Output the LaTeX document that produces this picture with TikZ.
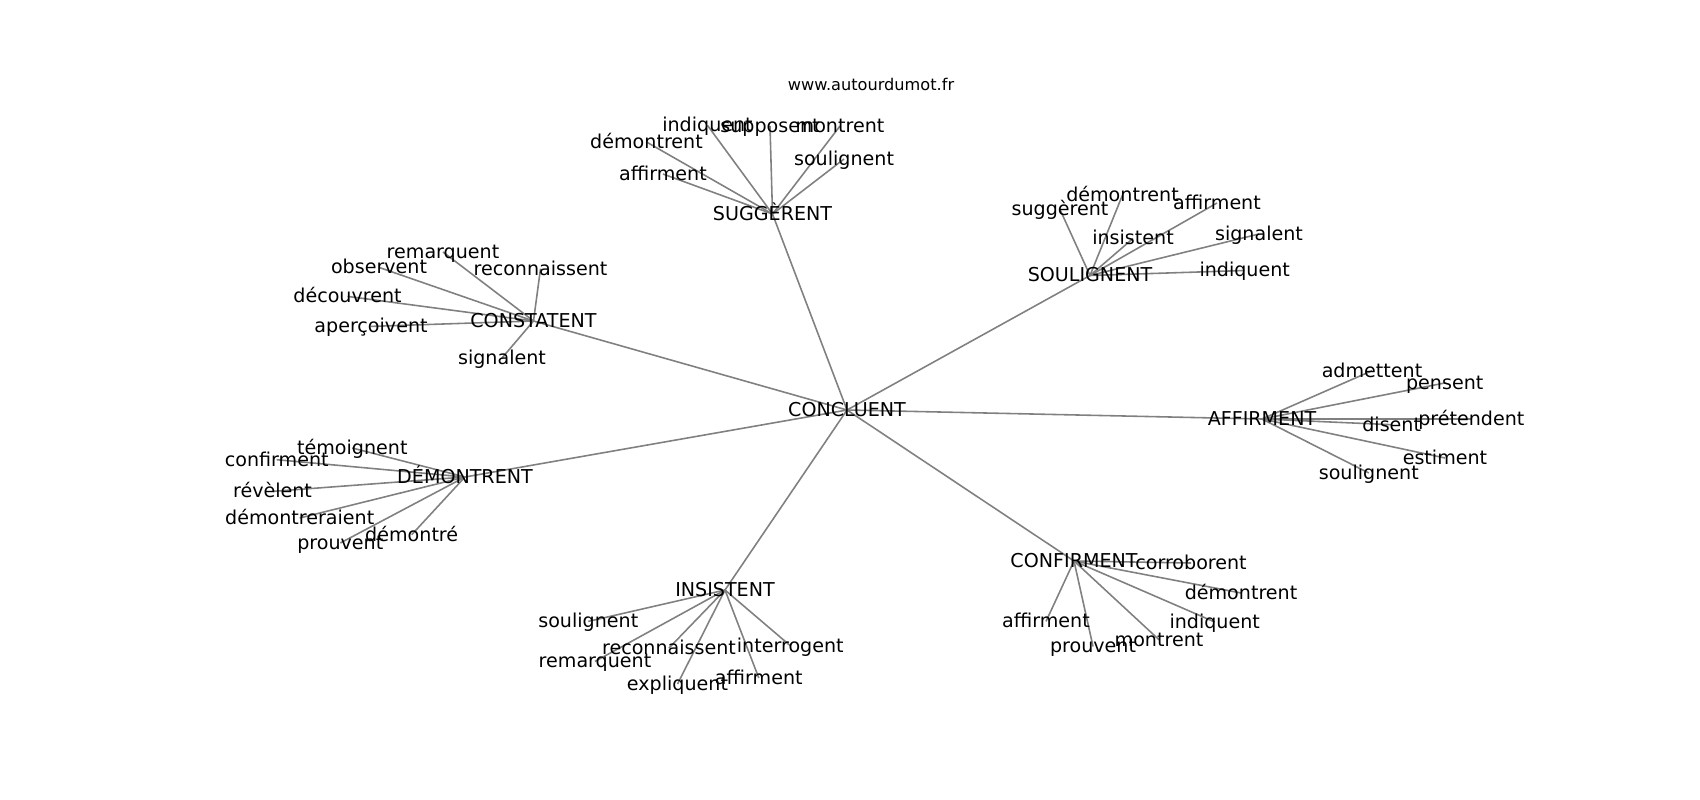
\documentclass[tikz,border=0pt]{standalone}
\usepackage{fontspec}
\setmainfont{DejaVu Sans}
\usetikzlibrary{backgrounds}
\tikzstyle{link} = [draw=black!50,line width=0.9pt]

\begin{document}
\begin{tikzpicture} [
    x=0.02cm, y=-0.02cm,
    node/.style={inner sep=0pt,text height=0.86em,text depth=0.14em,font=\fontsize{10.87}{13}\selectfont},
    hub/.style={node},
    web/.style={inner sep=0pt,text height=0.86em,text depth=0.14em,font=\fontsize{9.2}{11}\selectfont},
    ]
    \useasboundingbox (0,0) rectangle (1700,800);

    \node [web] (W) at (871,84) {www.autourdumot.fr};
    \node [hub] (A) at (847,410) {CONCLUENT};
    \path (A) ++(-74.5,-196) node [hub] (SG) {SUGGÈRENT};
    \path (A) ++(243,-134.5) node [hub] (SO) {SOULIGNENT};
    \path (A) ++(-313.5,-89) node [hub] (CS) {CONSTATENT};
    \path (A) ++(-382,67) node [hub] (DM) {DÉMONTRENT};
    \path (A) ++(415,9) node [hub] (AF) {AFFIRMENT};
    \path (A) ++(227,151) node [hub] (CF) {CONFIRMENT};
    \path (A) ++(-122,180) node [hub] (IN) {INSISTENT};

    \path (SG) ++(-65,-88.6) node [node] (SGa) {indiquent};
    \path (SG) ++(-2.5,-88) node [node] (SGb) {supposent};
    \path (SG) ++(67.5,-88) node [node] (SGc) {montrent};
    \path (SG) ++(-126,-72) node [node] (SGd) {démontrent};
    \path (SG) ++(-109.5,-40) node [node] (SGe) {affirment};
    \path (SG) ++(71.5,-55) node [node] (SGf) {soulignent};

    \path (SO) ++(-30,-66) node [node] (SOa) {suggèrent};
    \path (SO) ++(32.5,-80.5) node [node] (SOb) {démontrent};
    \path (SO) ++(127,-72.5) node [node] (SOc) {affirment};
    \path (SO) ++(43,-37) node [node] (SOd) {insistent};
    \path (SO) ++(169,-41.5) node [node] (SOe) {signalent};
    \path (SO) ++(154.7,-5) node [node] (SOf) {indiquent};

    \path (CS) ++(-90.5,-69) node [node] (CSa) {remarquent};
    \path (CS) ++(-154.5,-53.6) node [node] (CSb) {observent};
    \path (CS) ++(7,-52.3) node [node] (CSc) {reconnaissent};
    \path (CS) ++(-186,-24.6) node [node] (CSd) {découvrent};
    \path (CS) ++(-162.5,5.4) node [node] (CSe) {aperçoivent};
    \path (CS) ++(-31.5,37) node [node] (CSf) {signalent};

    \path (DM) ++(-112.7,-29) node [node] (DMa) {témoignent};
    \path (DM) ++(-188.3,-17.3) node [node] (DMb) {confirment};
    \path (DM) ++(-192.5,14.4) node [node] (DMc) {révèlent};
    \path (DM) ++(-165.3,41) node [node] (DMd) {démontreraient};
    \path (DM) ++(-53.3,57.7) node [node] (DMe) {démontré};
    \path (DM) ++(-124.7,66) node [node] (DMf) {prouvent};

    \path (AF) ++(110,-48.3) node [node] (AFa) {admettent};
    \path (AF) ++(182.7,-36) node [node] (AFb) {pensent};
    \path (AF) ++(209.3,0) node [node] (AFc) {prétendent};
    \path (AF) ++(129.7,5.7) node [node] (AFd) {disent};
    \path (AF) ++(183,39) node [node] (AFe) {estiment};
    \path (AF) ++(106.8,54) node [node] (AFf) {soulignent};

    \path (CF) ++(117,2) node [node] (CFa) {corroborent};
    \path (CF) ++(167,32) node [node] (CFb) {démontrent};
    \path (CF) ++(-28,60.4) node [node] (CFc) {affirment};
    \path (CF) ++(140.7,61) node [node] (CFd) {indiquent};
    \path (CF) ++(19,85.4) node [node] (CFe) {prouvent};
    \path (CF) ++(85,78.7) node [node] (CFf) {montrent};

    \path (IN) ++(-136.7,31.4) node [node] (INa) {soulignent};
    \path (IN) ++(-56,58) node [node] (INb) {reconnaissent};
    \path (IN) ++(65.3,55.7) node [node] (INc) {interrogent};
    \path (IN) ++(-130,71.4) node [node] (INd) {remarquent};
    \path (IN) ++(33.8,88) node [node] (INe) {affirment};
    \path (IN) ++(-47.5,94) node [node] (INf) {expliquent};

    \begin{pgfonlayer}{background}
    \draw[link] (A.center) -- (SG.center);
    \draw[link] (A.center) -- (SO.center);
    \draw[link] (A.center) -- (CS.center);
    \draw[link] (A.center) -- (DM.center);
    \draw[link] (A.center) -- (AF.center);
    \draw[link] (A.center) -- (CF.center);
    \draw[link] (A.center) -- (IN.center);

    \draw[link] (SG.center) -- (SGa.center);
    \draw[link] (SG.center) -- (SGb.center);
    \draw[link] (SG.center) -- (SGc.center);
    \draw[link] (SG.center) -- (SGd.center);
    \draw[link] (SG.center) -- (SGe.center);
    \draw[link] (SG.center) -- (SGf.center);

    \draw[link] (SO.center) -- (SOa.center);
    \draw[link] (SO.center) -- (SOb.center);
    \draw[link] (SO.center) -- (SOc.center);
    \draw[link] (SO.center) -- (SOd.center);
    \draw[link] (SO.center) -- (SOe.center);
    \draw[link] (SO.center) -- (SOf.center);

    \draw[link] (CS.center) -- (CSa.center);
    \draw[link] (CS.center) -- (CSb.center);
    \draw[link] (CS.center) -- (CSc.center);
    \draw[link] (CS.center) -- (CSd.center);
    \draw[link] (CS.center) -- (CSe.center);
    \draw[link] (CS.center) -- (CSf.center);

    \draw[link] (DM.center) -- (DMa.center);
    \draw[link] (DM.center) -- (DMb.center);
    \draw[link] (DM.center) -- (DMc.center);
    \draw[link] (DM.center) -- (DMd.center);
    \draw[link] (DM.center) -- (DMe.center);
    \draw[link] (DM.center) -- (DMf.center);

    \draw[link] (AF.center) -- (AFa.center);
    \draw[link] (AF.center) -- (AFb.center);
    \draw[link] (AF.center) -- (AFc.center);
    \draw[link] (AF.center) -- (AFd.center);
    \draw[link] (AF.center) -- (AFe.center);
    \draw[link] (AF.center) -- (AFf.center);

    \draw[link] (CF.center) -- (CFa.center);
    \draw[link] (CF.center) -- (CFb.center);
    \draw[link] (CF.center) -- (CFc.center);
    \draw[link] (CF.center) -- (CFd.center);
    \draw[link] (CF.center) -- (CFe.center);
    \draw[link] (CF.center) -- (CFf.center);

    \draw[link] (IN.center) -- (INa.center);
    \draw[link] (IN.center) -- (INb.center);
    \draw[link] (IN.center) -- (INc.center);
    \draw[link] (IN.center) -- (INd.center);
    \draw[link] (IN.center) -- (INe.center);
    \draw[link] (IN.center) -- (INf.center);
    \end{pgfonlayer}
\end{tikzpicture}
\end{document}
